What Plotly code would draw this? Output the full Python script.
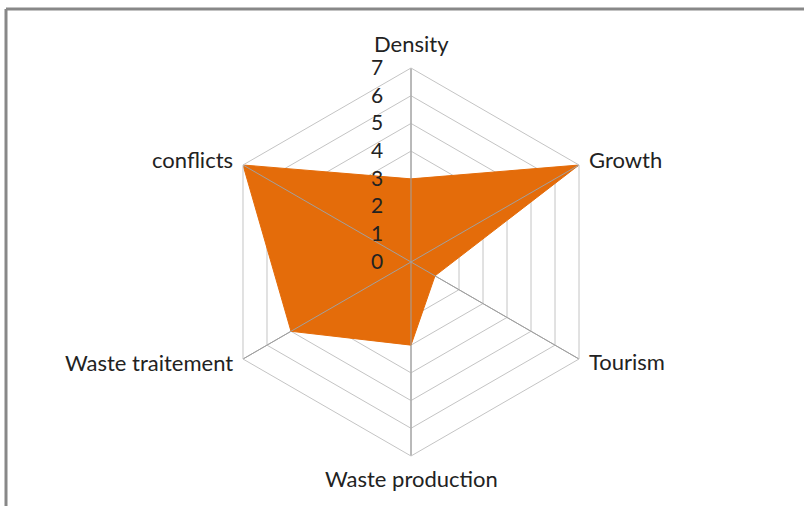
import math
import plotly.graph_objects as go

categories = ["Density", "Growth", "Tourism", "Waste production", "Waste traitement", "conflicts"]
values = [3, 7, 1, 3, 5, 7]
radial_ticks = [0, 1, 2, 3, 4, 5, 6, 7]
r_max = 7

W, H = 804, 506
cx, cy, R = 411, 262, 194

fig = go.Figure()
fig.add_trace(go.Scatterpolar(
    r=values + [values[0]],
    theta=categories + [categories[0]],
    fill="toself",
    fillcolor="#E46C0A",
    line=dict(color="#E46C0A", width=1),
    mode="lines",
    hoverinfo="skip",
))
# spokes drawn above the filled area
for cat in categories:
    fig.add_trace(go.Scatterpolar(
        r=[0, r_max], theta=[cat, cat], mode="lines",
        line=dict(color="#a0a0a0", width=1), hoverinfo="skip",
    ))

# category labels placed around the outer polygon
annotations = []
n = len(categories)
for i, cat in enumerate(categories):
    a = 2 * math.pi * i / n
    dx, dy = math.sin(a), math.cos(a)
    vx, vy = cx + dx * R, cy - dy * R
    if abs(dx) < 1e-6:
        x, y = vx, vy - 24 * (1 if dy > 0 else -1) + (-2 if dy < 0 else 0)
        xanchor = "center"
    else:
        x = vx + 8 * (1 if dx > 0 else -1)
        y = vy + (-5 if dy > 0 else 3)
        xanchor = "left" if dx > 0 else "right"
    annotations.append(dict(
        text=cat, x=x / W, y=1 - y / H, xref="paper", yref="paper",
        xanchor=xanchor, yanchor="middle", showarrow=False,
        font=dict(size=22, color="#222222"),
    ))

fig.update_layout(
    width=W, height=H,
    margin=dict(l=0, r=0, t=0, b=0),
    paper_bgcolor="white",
    showlegend=False,
    font=dict(family="Lato, Calibri, sans-serif", size=22, color="#222222"),
    annotations=annotations,
    polar=dict(
        domain=dict(x=[(cx - R) / W, (cx + R) / W], y=[(H - cy - R) / H, (H - cy + R) / H]),
        bgcolor="white",
        gridshape="linear",
        radialaxis=dict(
            range=[0, r_max],
            tickvals=radial_ticks,
            ticktext=[str(t) for t in radial_ticks],
            angle=90,
            tickangle=90,
            side="counterclockwise",
            showline=False,
            ticks="outside",
            ticklen=20,
            tickcolor="rgba(0,0,0,0)",
            gridcolor="#c4c4c4",
            gridwidth=1,
            tickfont=dict(size=21, color="#222222"),
            layer="above traces",
        ),
        angularaxis=dict(
            direction="clockwise",
            rotation=90,
            gridcolor="#a6a6a6",
            linecolor="#c4c4c4",
            showline=True,
            ticks="",
            showticklabels=False,
            layer="above traces",
        ),
    ),
    shapes=[
        dict(type="line", xref="paper", yref="paper", x0=6 / W, x1=1.01, y0=1 - 9 / H, y1=1 - 9 / H,
             line=dict(color="#888888", width=3)),
        dict(type="line", xref="paper", yref="paper", x0=6 / W, x1=6 / W, y0=-0.01, y1=1 - 9 / H,
             line=dict(color="#888888", width=3)),
    ],
)

fig.write_html("out.html", config={"displayModeBar": False},
               post_script="document.body.style.margin='0';")
